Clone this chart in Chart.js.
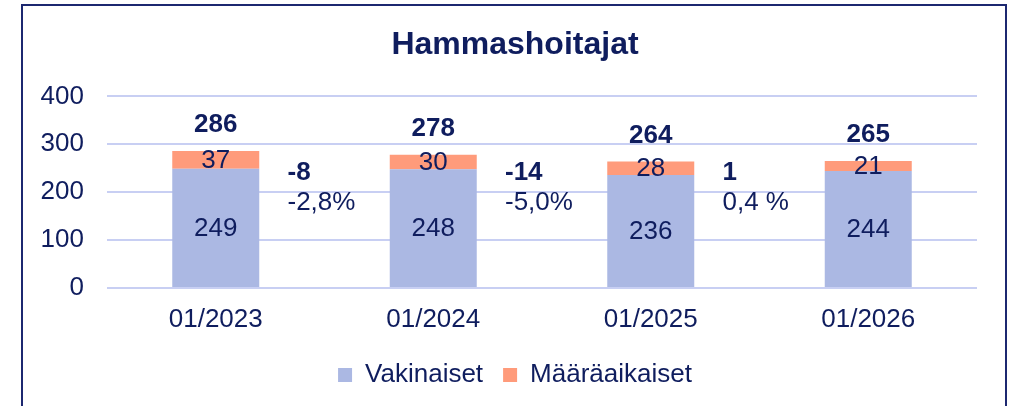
<!DOCTYPE html>
<html>
<head>
<meta charset="utf-8">
<script src="https://cdn.jsdelivr.net/npm/chart.js@4"></script>
<style>
  html, body { margin: 0; padding: 0; background: #fff; }
  #wrap { width: 1013px; height: 406px; }
</style>
</head>
<body>
<div id="wrap"><canvas id="chart" width="1013" height="406"></canvas></div>
<script>
var categories = ["01/2023", "01/2024", "01/2025", "01/2026"];
var permanent = [249, 248, 236, 244];
var fixedTerm = [37, 30, 28, 21];
var totals = [286, 278, 264, 265];
var changes = ["-8", "-14", "1"];
var changePct = ["-2,8%", "-5,0%", "0,4 %"];
var yTicks = [0, 100, 200, 300, 400];

var navy = "#0f1d5e";
var font = "'Liberation Sans', Arial, sans-serif";

// frame, y tick texts and all the value texts
var labelPlugin = {
    id: "labels",
    beforeDraw: function (chart) {
        var c = chart.ctx;
        c.save();
        c.strokeStyle = "#1c2870";
        c.lineWidth = 2;
        c.beginPath();
        c.moveTo(22, 406);
        c.lineTo(22, 5);
        c.lineTo(1006, 5);
        c.lineTo(1006, 406);
        c.stroke();
        c.restore();
    },
    afterDraw: function (chart) {
        // y tick labels drawn here so they are not clipped to the narrow axis box
        var c = chart.ctx, ys = chart.scales.y;
        c.save();
        c.fillStyle = navy;
        c.font = "26px " + font;
        c.textAlign = "right";
        c.textBaseline = "middle";
        yTicks.forEach(function (v) {
            c.fillText(v, chart.chartArea.left - 23, ys.getPixelForValue(v));
        });
        c.restore();
    },
    afterDatasetsDraw: function (chart) {
        var c = chart.ctx;
        var xs = chart.scales.x, ys = chart.scales.y;
        c.save();
        c.fillStyle = navy;
        c.textAlign = "center";
        c.textBaseline = "middle";
        c.font = "26px " + font;
        chart.data.datasets.forEach(function (ds, di) {
            chart.getDatasetMeta(di).data.forEach(function (bar, i) {
                c.fillText(ds.data[i], bar.x, (bar.y + bar.base) / 2 + 1);
            });
        });
        c.font = "bold 26px " + font;
        var top = chart.getDatasetMeta(1).data;
        totals.forEach(function (t, i) {
            c.fillText(t, top[i].x, top[i].y - 26);
        });
        c.textAlign = "left";
        changes.forEach(function (ch, i) {
            var mid = (xs.getPixelForValue(i) + xs.getPixelForValue(i + 1)) / 2;
            var y = ys.getPixelForValue(240);
            c.font = "bold 26px " + font;
            c.fillText(ch, mid - 37, y);
            c.font = "26px " + font;
            c.fillText(changePct[i], mid - 37, y + 30);
        });
        c.restore();
    }
};

var ctx = document.getElementById("chart").getContext("2d");

new Chart(ctx, {
    type: "bar",
    data: {
        labels: categories,
        datasets: [{
            label: "Vakinaiset",
            data: permanent,
            backgroundColor: "#abb8e3",
            barPercentage: 0.4,
            categoryPercentage: 1
        }, {
            label: "Määräaikaiset",
            data: fixedTerm,
            backgroundColor: "#ff9b7b",
            barPercentage: 0.4,
            categoryPercentage: 1
        }]
    },
    options: {
        responsive: false,
        animation: false,
        layout: {
            padding: { left: 53, right: 36, top: 10, bottom: 8 }
        },
        plugins: {
            title: {
                display: true,
                text: "Hammashoitajat",
                color: navy,
                font: { size: 32, weight: "bold", family: font },
                padding: { top: 16, bottom: 32 }
            },
            legend: {
                position: "bottom",
                labels: {
                    boxWidth: 14,
                    boxHeight: 14,
                    padding: 20,
                    color: navy,
                    font: { size: 26, family: font }
                }
            },
            tooltip: { enabled: false }
        },
        scales: {
            x: {
                stacked: true,
                grid: { display: false, drawTicks: false },
                border: { display: false },
                ticks: {
                    padding: 16,
                    color: navy,
                    font: { size: 26, family: font }
                },
                afterFit: function (scale) { scale.height = 54; }
            },
            y: {
                stacked: true,
                min: 0,
                max: 400,
                grid: { color: "#c8cff3", lineWidth: 2, drawTicks: false },
                border: { display: false },
                afterBuildTicks: function (scale) {
                    scale.ticks = yTicks.map(function (v) { return { value: v }; });
                },
                afterFit: function (scale) { scale.width = 54; },
                ticks: { display: false }
            }
        }
    },
    plugins: [labelPlugin]
});
</script>
</body>
</html>
